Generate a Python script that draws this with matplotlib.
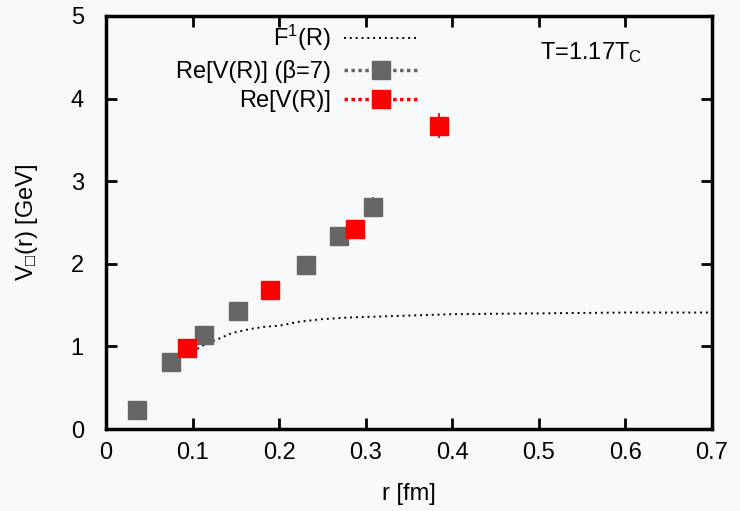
import matplotlib
matplotlib.use("Agg")
import matplotlib.pyplot as plt
from matplotlib.lines import Line2D

plt.rcParams['font.family'] = ['Liberation Sans', 'DejaVu Sans']
plt.rcParams['mathtext.fontset'] = 'custom'
plt.rcParams['mathtext.rm'] = 'Liberation Sans'
plt.rcParams['mathtext.it'] = 'Liberation Sans'
plt.rcParams['mathtext.fallback'] = 'stixsans'

# Data
gray_r = [0.036, 0.075, 0.113, 0.152, 0.231, 0.269, 0.308]
gray_v = [0.23, 0.81, 1.14, 1.43, 1.99, 2.34, 2.69]
gray_err = [0.02, 0.02, 0.02, 0.03, 0.04, 0.05, 0.12]

red_r = [0.094, 0.190, 0.288, 0.385]
red_v = [0.98, 1.68, 2.42, 3.67]
red_err = [0.03, 0.05, 0.06, 0.15]

f1_r = [0.100, 0.110, 0.120, 0.132, 0.145, 0.166, 0.185, 0.200, 0.224, 0.250,
        0.280, 0.340, 0.400, 0.500, 0.600, 0.700]
f1_v = [0.93, 1.00, 1.05, 1.10, 1.16, 1.21, 1.24, 1.25, 1.30, 1.33,
        1.35, 1.37, 1.39, 1.40, 1.41, 1.41]

xticks = [0, 0.1, 0.2, 0.3, 0.4, 0.5, 0.6, 0.7]
yticks = [0, 1, 2, 3, 4, 5]

FS = 17
bg = '#f8f9fb'
fig = plt.figure(figsize=(7.4, 5.11), dpi=100, facecolor=bg)
ax = fig.add_axes([106/740, 1-429/511, (712-106)/740, (429-16)/511])
ax.set_facecolor(bg)

ax.plot(f1_r, f1_v, linestyle=(0, (1, 2)), color='black', lw=1.4)
ax.errorbar(gray_r, gray_v, yerr=gray_err, fmt='s', color='#666666', ms=12.5,
            ecolor='#666666', elinewidth=1.3, capsize=0)
ax.errorbar(red_r, red_v, yerr=red_err, fmt='s', color='#ff0000', ms=12.5,
            ecolor='#ff0000', elinewidth=1.3, capsize=0)

h1 = Line2D([], [], linestyle=(0, (1, 2)), color='black', lw=1.4)
h2 = Line2D([], [], linestyle=(0, (1, 1)), color='#666666', lw=2.5, marker='s', ms=12.5)
h3 = Line2D([], [], linestyle=(0, (1, 1)), color='#ff0000', lw=2.5, marker='s', ms=12.5)
leg = ax.legend([h1, h2, h3], [r'F$^1$(R)', 'Re[V(R)] (\u03b2=7)', 'Re[V(R)]'],
                loc='upper right', bbox_to_anchor=(0.527, 1.0), frameon=False,
                markerfirst=False, fontsize=FS, handlelength=3.15, labelspacing=0.3,
                handletextpad=0.55, borderaxespad=0.1, borderpad=0.2)
for t in leg.get_texts():
    t.set_ha('right')
leg._legend_box.align = 'right'

ax.text(0.560, 4.56, r'T=1.17T$_{\mathrm{C}}$', fontsize=FS, ha='center', va='center')

ax.set_xlim(0, 0.7)
ax.set_ylim(0, 5)
ax.set_xticks(xticks)
ax.set_yticks(yticks)
ax.set_xticklabels(['0', '0.1', '0.2', '0.3', '0.4', '0.5', '0.6', '0.7'])
ax.tick_params(direction='in', length=8, width=2, labelsize=FS, top=True, right=True)
ax.tick_params(axis='x', pad=9)
ax.tick_params(axis='y', pad=16)
for s in ax.spines.values():
    s.set_linewidth(2.5)
ax.set_xlabel('r [fm]', fontsize=FS, labelpad=14)
ax.set_ylabel('V$_{\u25a1}$(r) [GeV]', fontsize=FS, labelpad=22)

fig.savefig('out.png', dpi=100, facecolor=bg)
